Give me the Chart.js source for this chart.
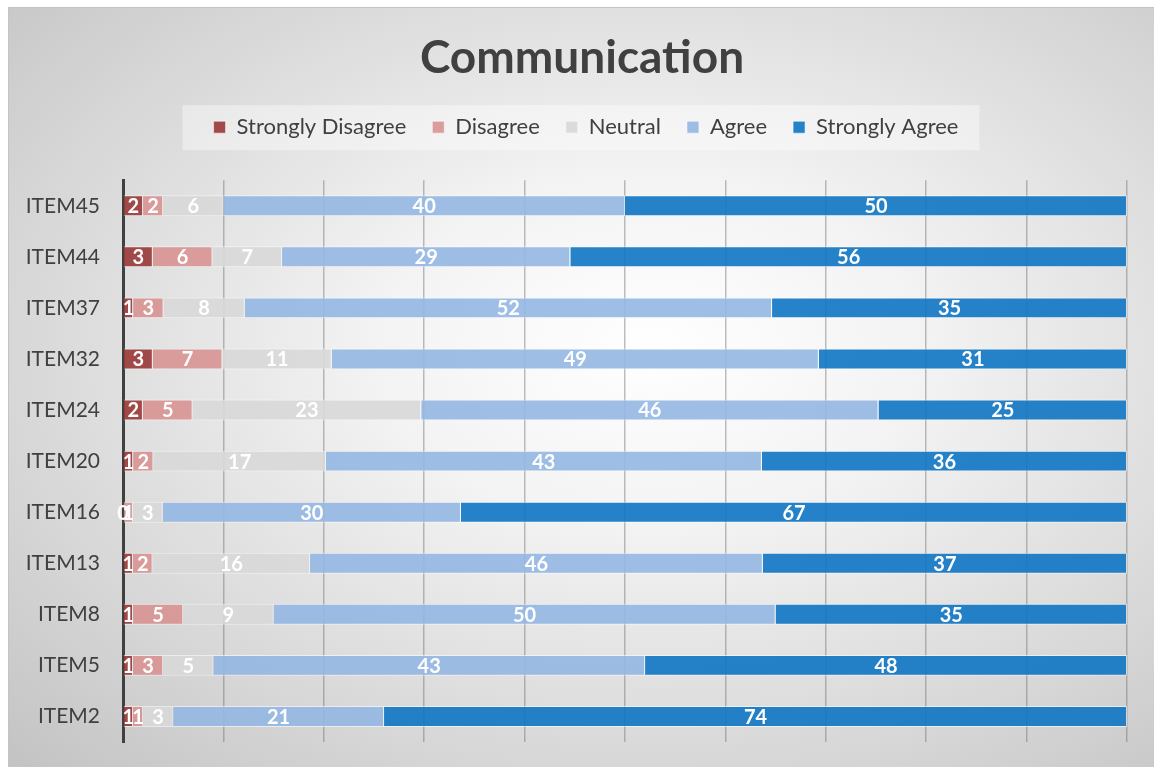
<!DOCTYPE html>
<html>
<head>
<meta charset="utf-8">
<script src="https://cdn.jsdelivr.net/npm/chart.js@4/dist/chart.umd.min.js"></script>
<style>
  html, body { margin: 0; padding: 0; background: #ffffff; }
  #wrap {
    position: absolute;
    left: 8px;
    top: 7px;
    width: 1145px;
    height: 759px;
    border-left: 1px solid #c4c4c4;
    border-top: 1px solid #c4c4c4;
    background: radial-gradient(ellipse farthest-corner at 56% 45%, #ffffff 0%, #f3f3f3 30%, #c3c3c3 100%);
  }
  #myChart { display: block; }
</style>
</head>
<body>
<div id="wrap"><canvas id="myChart" width="1145" height="759"></canvas></div>
<script>
const items = ["ITEM45", "ITEM44", "ITEM37", "ITEM32", "ITEM24", "ITEM20", "ITEM16", "ITEM13", "ITEM8", "ITEM5", "ITEM2"];

const stronglyDisagree = [2, 3, 1, 3, 2, 1, 0, 1, 1, 1, 1];
const disagree = [2, 6, 3, 7, 5, 2, 1, 2, 5, 3, 1];
const neutral = [6, 7, 8, 11, 23, 17, 3, 16, 9, 5, 3];
const agree = [40, 29, 52, 49, 46, 43, 30, 46, 50, 43, 21];
const stronglyAgree = [50, 56, 35, 31, 25, 36, 67, 37, 35, 48, 74];

const xTicks = [0, 10, 20, 30, 40, 50, 60, 70, 80, 90, 100];

const series = [
  { label: "Strongly Disagree", values: stronglyDisagree, color: "rgba(154, 56, 56, 0.9)" },
  { label: "Disagree", values: disagree, color: "rgba(216, 146, 146, 0.9)" },
  { label: "Neutral", values: neutral, color: "rgba(216, 216, 216, 0.9)" },
  { label: "Agree", values: agree, color: "rgba(149, 183, 227, 0.9)" },
  { label: "Strongly Agree", values: stronglyAgree, color: "rgba(14, 118, 195, 0.9)" }
];

// each row is drawn as a share of its own total (100% stacked)
const totals = items.map((_, j) => series.reduce((s, d) => s + d.values[j], 0));

const FONT = "Lato, 'Open Sans', sans-serif";
const TEXT = "#404040";

// white counts in the middle of every segment
const segmentLabels = {
  id: "segmentLabels",
  afterDatasetsDraw(chart) {
    const ctx = chart.ctx;
    ctx.save();
    ctx.font = "bold 20px " + FONT;
    ctx.fillStyle = "#ffffff";
    ctx.textAlign = "center";
    ctx.textBaseline = "middle";
    chart.data.datasets.forEach((ds, i) => {
      const meta = chart.getDatasetMeta(i);
      meta.data.forEach((bar, j) => {
        const x = (bar.x + bar.base) / 2;
        ctx.fillText(String(ds.rawValues[j]), x, bar.y + 1);
      });
    });
    ctx.restore();
  }
};

// pale panel behind the legend, room under it, title and legend nudged right
const legendPanel = {
  id: "legendPanel",
  afterInit(chart) {
    const legend = chart.legend;
    const fit = legend.fit;
    legend.fit = function () {
      fit.call(this);
      this.height += 32;
    };
  },
  afterLayout(chart) {
    chart.titleBlock.left += 14;
    chart.titleBlock.right += 14;
    chart.legend.left += 18;
    chart.legend.right += 18;
  },
  beforeDraw(chart) {
    const legend = chart.legend;
    const boxes = legend.legendHitBoxes;
    if (!boxes || !boxes.length) return;
    const first = boxes[0];
    const last = boxes[boxes.length - 1];
    const left = first.left - 31;
    const right = last.left + last.width + 21;
    const cy = first.top + first.height / 2;
    const ctx = chart.ctx;
    ctx.save();
    ctx.fillStyle = "rgba(255, 255, 255, 0.4)";
    ctx.fillRect(left, cy - 22, right - left, 45);
    ctx.restore();
  }
};

const data = {
  labels: items,
  datasets: series.map(s => ({
    label: s.label,
    rawValues: s.values,
    data: s.values.map((v, j) => v / totals[j] * 100),
    backgroundColor: s.color,
    borderColor: "rgba(255, 255, 255, 0.55)",
    borderWidth: 1,
    barPercentage: 0.41,
    categoryPercentage: 1
  }))
};

const config = {
  type: "bar",
  data,
  options: {
    indexAxis: "y",
    responsive: false,
    animation: false,
    layout: {
      autoPadding: false,
      padding: { top: 0, left: 0, right: 27, bottom: 25 }
    },
    plugins: {
      title: {
        display: true,
        text: "Communication",
        color: TEXT,
        font: { family: FONT, size: 46, weight: "bold" },
        padding: { top: 23, bottom: 4 }
      },
      legend: {
        display: true,
        position: "top",
        labels: {
          color: TEXT,
          font: { family: FONT, size: 22 },
          boxWidth: 12,
          boxHeight: 12,
          padding: 26
        }
      },
      tooltip: { enabled: false }
    },
    scales: {
      x: {
        stacked: true,
        min: 0,
        max: 100,
        afterBuildTicks(scale) {
          scale.ticks = xTicks.map(v => ({ value: v }));
        },
        afterFit(scale) {
          scale.height = 0;
        },
        ticks: { display: false },
        grid: {
          color: "rgba(110, 110, 110, 0.45)",
          lineWidth: 1.5,
          drawTicks: false
        },
        border: { display: false }
      },
      y: {
        stacked: true,
        afterFit(scale) {
          scale.width = 114;
          scale.paddingTop = 0;
          scale.paddingBottom = 0;
        },
        ticks: {
          color: TEXT,
          font: { family: FONT, size: 21 },
          padding: 23
        },
        grid: { display: false, drawTicks: false },
        border: { display: true, color: "#404040", width: 3 }
      }
    }
  },
  plugins: [legendPanel, segmentLabels]
};

new Chart(document.getElementById("myChart"), config);
</script>
</body>
</html>
